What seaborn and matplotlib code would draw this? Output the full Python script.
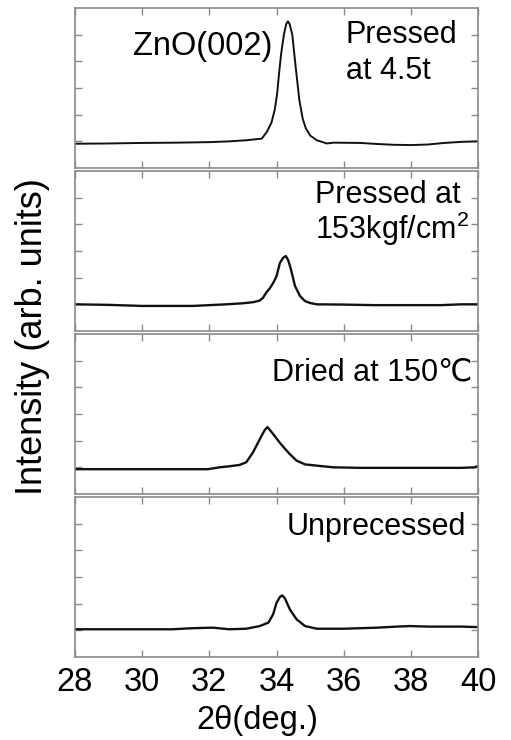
import matplotlib
matplotlib.use("Agg")
import matplotlib.pyplot as plt
import seaborn as sns
import pandas as pd

# ---- data ----
x_p1 = [28.0, 29.0, 30.0, 31.0, 32.0, 32.6, 33.1, 33.4, 33.56, 33.71, 33.85, 33.95, 34.02, 34.08,
        34.14, 34.22, 34.29, 34.34, 34.39, 34.47, 34.57, 34.68, 34.78, 34.87, 35.0, 35.2, 35.5,
        35.7, 36.5, 37.0, 37.5, 38.0, 38.5, 39.0, 39.5, 40.0]
y_p1 = [-0.09, -0.08, -0.06, -0.05, -0.03, 0.0, 0.04, 0.08, 0.1, 0.35, 0.7, 1.2, 1.8, 2.6,
        3.3, 4.0, 4.4, 4.5, 4.4, 4.0, 2.8, 1.55, 0.85, 0.5, 0.22, 0.04, -0.08,
        -0.05, -0.06, -0.1, -0.13, -0.14, -0.12, -0.06, -0.02, 0.0]

x_p2 = [28.0, 29.0, 30.0, 31.0, 31.5, 32.0, 32.5, 33.0, 33.3, 33.5, 33.6, 33.7, 33.8, 33.9, 34.0,
        34.05, 34.1, 34.2, 34.28, 34.35, 34.43, 34.55, 34.7, 34.85, 35.0, 35.2, 36.0, 36.9, 38.0,
        38.9, 39.5, 40.0]
y_p2 = [0.0, -0.02, -0.06, -0.06, -0.06, -0.03, 0.0, 0.04, 0.08, 0.14, 0.25, 0.45, 0.6, 0.8, 1.05,
        1.3, 1.55, 1.75, 1.81, 1.65, 1.31, 0.69, 0.31, 0.12, 0.05, 0.0, -0.01, -0.03, -0.03,
        -0.03, 0.0, 0.0]

x_p3 = [28.0, 29.0, 30.0, 31.0, 31.96, 32.3, 32.6, 32.9, 33.1, 33.3, 33.5, 33.65, 33.73, 33.9,
        34.1, 34.25, 34.4, 34.6, 34.85, 35.3, 35.7, 36.5, 37.5, 38.5, 39.5, 39.9, 40.0]
y_p3 = [-0.07, -0.07, -0.07, -0.07, -0.07, 0.0, 0.04, 0.09, 0.19, 0.56, 1.05, 1.4, 1.51, 1.25,
        0.92, 0.7, 0.49, 0.25, 0.11, 0.05, 0.0, -0.02, -0.02, -0.02, -0.02, 0.0, 0.05]

x_p4 = [28.0, 29.0, 30.0, 30.9, 31.5, 32.1, 32.6, 33.1, 33.5, 33.76, 33.9, 34.0, 34.1, 34.17,
        34.25, 34.4, 34.6, 34.85, 35.2, 36.0, 37.0, 37.58, 37.98, 38.5, 39.5, 40.0]
y_p4 = [0.04, 0.04, 0.04, 0.04, 0.08, 0.1, 0.04, 0.06, 0.16, 0.29, 0.6, 1.03, 1.25, 1.31,
        1.2, 0.78, 0.41, 0.16, 0.06, 0.06, 0.1, 0.14, 0.16, 0.14, 0.14, 0.12]

x_ticks = [28, 30, 32, 34, 36, 38, 40]
x_ticklabels = ["28", "30", "32", "34", "36", "38", "40"]
x_label = "2θ(deg.)"
y_label = "Intensity (arb. units)"

# ---- style ----
sns.set_style("white")
plt.rcParams["font.family"] = ["Liberation Sans", "DejaVu Sans"]
plt.rcParams["text.color"] = "black"
plt.rcParams["mathtext.fontset"] = "custom"
plt.rcParams["mathtext.rm"] = "Liberation Sans"
plt.rcParams["mathtext.default"] = "rm"

W, H = 511, 740
fig = plt.figure(figsize=(W / 100, H / 100), dpi=100)

panels = [(x_p1, y_p1, 1.4), (x_p2, y_p2, 1.7), (x_p3, y_p3, 1.7), (x_p4, y_p4, 1.7)]
left_px, right_px = 75, 478
tops = [8, 171, 334, 497]
ph = 160
grey = "#8a8a8a"
for i, ((xs, ys, lw), top) in enumerate(zip(panels, tops)):
    ax = fig.add_axes([left_px / W, 1 - (top + ph) / H, (right_px - left_px) / W, ph / H])
    df = pd.DataFrame({"x": xs, "y": ys})
    sns.lineplot(data=df, x="x", y="y", ax=ax, color="#111111", linewidth=lw, sort=False)
    ax.set_xlim(28, 40)
    ax.set_ylim(-1, 5)
    ax.set_xticks(x_ticks)
    ax.set_yticks([0, 1, 2, 3, 4])
    ax.set_xlabel("")
    ax.set_ylabel("")
    for s in ax.spines.values():
        s.set_color(grey)
        s.set_linewidth(1.2)
    ax.tick_params(axis="both", which="both", direction="in", top=True, right=True,
                   left=True, bottom=True, length=5, width=1, color=grey,
                   labelleft=False, labelbottom=(i == 3))
    if i == 3:
        ax.set_xticklabels(x_ticklabels)
        ax.tick_params(axis="x", labelsize=23.5, pad=7, labelcolor="black")


def ftext(x, y, s, **kw):
    fig.text(x / W, 1 - y / H, s, va="baseline", color="black", **kw)


ftext(133, 55, "ZnO(002)", fontsize=23.5)
ftext(346, 43, "Pressed", fontsize=22)
ftext(346, 79, "at 4.5t", fontsize=22)
ftext(315, 203, "Pressed at", fontsize=22)
ftext(315, 239, "153kgf/cm$^{2}$", fontsize=22)
ftext(272, 380, "Dried at 150℃", fontsize=22)
ftext(287, 535, "Unprecessed", fontsize=22)

fig.text(257 / W, 1 - 720 / H, x_label, ha="center", va="center", fontsize=23.5, color="black")
fig.text(33 / W, 1 - 337 / H, y_label, ha="center", va="center", rotation=90, fontsize=26,
         color="black")

fig.savefig("out.png", dpi=100)
